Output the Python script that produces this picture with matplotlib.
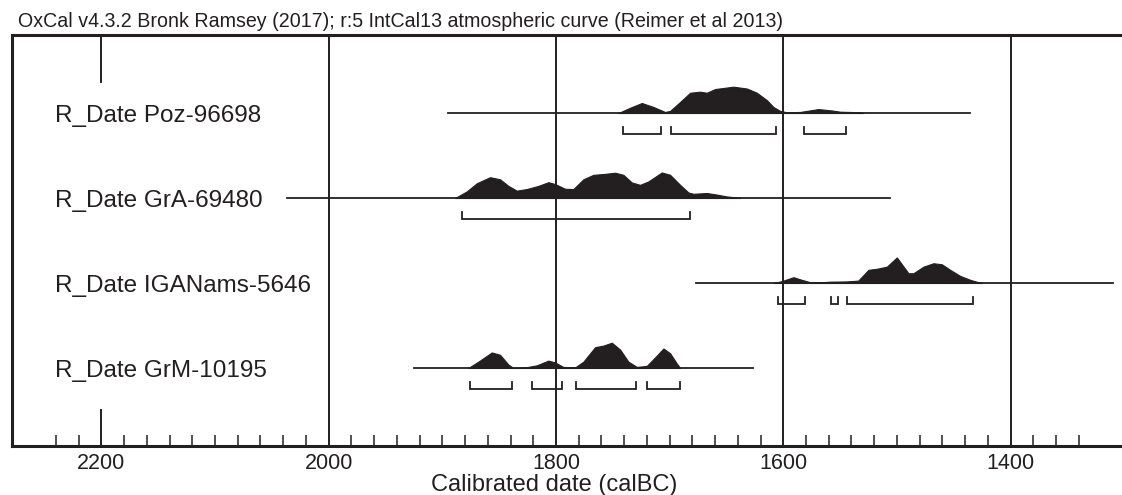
import numpy as np
import matplotlib
matplotlib.use('Agg')
import matplotlib.pyplot as plt
from matplotlib.transforms import blended_transform_factory

plt.rcParams['font.family'] = ['Liberation Sans', 'DejaVu Sans']

INK = '#231f20'

# sample names (top to bottom)
labels = ['R_Date Poz-96698', 'R_Date GrA-69480', 'R_Date IGANams-5646', 'R_Date GrM-10195']

# calibrated probability outlines (calBC, relative height)
poz_years = [1745.1, 1734.8, 1724.5, 1714.3, 1704.0, 1699.6, 1690.8, 1682.0, 1673.2, 1667.3,
             1660.0, 1643.9, 1632.1, 1623.3, 1614.5, 1608.7, 1602.8, 1596.9, 1585.2, 1569.1,
             1555.9, 1550.0, 1532.4, 1529.5]
poz_prob = [0.0, 0.20, 0.38, 0.23, 0.04, 0.08, 0.42, 0.77, 0.81, 0.77,
            0.91, 1.0, 0.93, 0.77, 0.49, 0.23, 0.08, 0.03, 0.04, 0.15,
            0.09, 0.05, 0.03, 0.0]

gra_years = [1888.8, 1878.5, 1869.7, 1858.0, 1849.2, 1841.9, 1834.5, 1825.7, 1815.5, 1806.7,
             1800.8, 1792.0, 1784.7, 1775.9, 1767.1, 1758.3, 1748.0, 1740.7, 1733.3, 1726.0,
             1718.7, 1706.9, 1699.6, 1690.8, 1683.5, 1679.1, 1667.3, 1658.5, 1649.7, 1640.9,
             1638.0]
gra_prob = [0.0, 0.25, 0.56, 0.79, 0.71, 0.46, 0.28, 0.34, 0.46, 0.60,
            0.53, 0.35, 0.34, 0.71, 0.88, 0.91, 0.96, 0.88, 0.59, 0.50,
            0.63, 0.97, 0.88, 0.50, 0.21, 0.16, 0.19, 0.13, 0.06, 0.02,
            0.0]

iga_years = [1608.7, 1601.3, 1591.1, 1583.7, 1576.4, 1566.1, 1558.8, 1544.1, 1534.1, 1525.1,
             1517.7, 1508.9, 1500.1, 1489.9, 1485.5, 1476.7, 1467.9, 1460.5, 1453.2, 1444.4,
             1435.6, 1428.3, 1425.3]
iga_prob = [0.0, 0.07, 0.22, 0.12, 0.03, 0.03, 0.05, 0.06, 0.09, 0.50,
            0.54, 0.62, 0.97, 0.37, 0.37, 0.62, 0.75, 0.71, 0.50, 0.27,
            0.12, 0.03, 0.0]

grm_years = [1877.1, 1868.3, 1856.5, 1849.2, 1841.9, 1837.5, 1827.2, 1816.9, 1806.7, 1800.8,
             1793.5, 1783.2, 1775.9, 1765.6, 1758.3, 1750.9, 1743.6, 1736.3, 1728.9, 1720.1,
             1711.3, 1705.5, 1699.6, 1693.7, 1690.8]
grm_prob = [0.0, 0.24, 0.59, 0.50, 0.13, 0.0, 0.02, 0.10, 0.28, 0.21,
            0.04, 0.02, 0.24, 0.79, 0.85, 0.96, 0.70, 0.24, 0.04, 0.08,
            0.47, 0.74, 0.56, 0.17, 0.0]

# horizontal extent of each plotted range line
spans = [(1895, 1436), (2037, 1506), (1677, 1310), (1925, 1627)]

# 95.4% ranges (brackets)
poz_ranges = [(1741, 1708), (1699, 1606), (1582, 1545)]
gra_ranges = [(1883, 1682)]
iga_ranges = [(1605, 1581), (1558, 1552), (1544, 1433)]
grm_ranges = [(1876, 1839), (1821, 1795), (1782, 1730), (1720, 1691)]

dists = [(poz_years, poz_prob), (gra_years, gra_prob), (iga_years, iga_prob), (grm_years, grm_prob)]
ranges = [poz_ranges, gra_ranges, iga_ranges, grm_ranges]

major_years = [2200, 2000, 1800, 1600, 1400]

W, H = 1122, 495
fig = plt.figure(figsize=(W / 100, H / 100), dpi=100)
ax_l, ax_t, ax_b = 12, 35, 446
ax = fig.add_axes([ax_l / W, 1 - ax_b / H, 1 - ax_l / W, (ax_b - ax_t) / H])
ax.set_xlim(2278.6, 1302)
ax.set_ylim(3.918, -0.918)

peak = 0.31
for i, ((yrs, pr), span, rng) in enumerate(zip(dists, spans, ranges)):
    yrs = np.array(yrs)
    pr = np.array(pr)
    ax.plot(span, [i, i], color=INK, lw=1.3, zorder=3)
    ax.fill_between(yrs, i, i - pr * peak, color=INK, lw=0.8, zorder=4)
    by = i + 0.245
    for a, b in rng:
        ax.plot([a, a, b, b], [by - 0.08, by, by, by - 0.08], color=INK, lw=1.3,
                solid_joinstyle='miter', zorder=3)

# full height gridlines / 2200 marks
for yr in major_years:
    if yr == 2200:
        ax.axvline(yr, ymin=1 - 47 / 411, ymax=1, color=INK, lw=1.4)
        ax.axvline(yr, ymin=0, ymax=36 / 411, color=INK, lw=1.4)
    else:
        ax.axvline(yr, color=INK, lw=1.4)

ax.set_xticks(major_years)
ax.set_xticks(np.arange(1340, 2241, 20), minor=True)
ax.tick_params(which='minor', direction='in', length=8, width=1.1, color=INK)
ax.tick_params(which='major', length=0, pad=5, labelsize=15.5, labelcolor=INK)
ax.set_yticks([])

for s in ['left', 'top', 'bottom']:
    ax.spines[s].set_linewidth(2.2)
    ax.spines[s].set_color(INK)
ax.spines['right'].set_visible(False)

tr = blended_transform_factory(ax.transAxes, ax.transData)
for i, lab in enumerate(labels):
    ax.text((55 - ax_l) / (W - ax_l), i + 0.106, lab, transform=tr, fontsize=17.5,
            color=INK, va='baseline', ha='left')

fig.text(18 / W, 1 - 27 / H,
         'OxCal v4.3.2 Bronk Ramsey (2017); r:5 IntCal13 atmospheric curve (Reimer et al 2013)',
         fontsize=14.1, color=INK, va='baseline', ha='left')
fig.text(554 / W, 1 - 491 / H, 'Calibrated date (calBC)', fontsize=17, color=INK,
         va='baseline', ha='center')

fig.savefig('out.png', dpi=100)
